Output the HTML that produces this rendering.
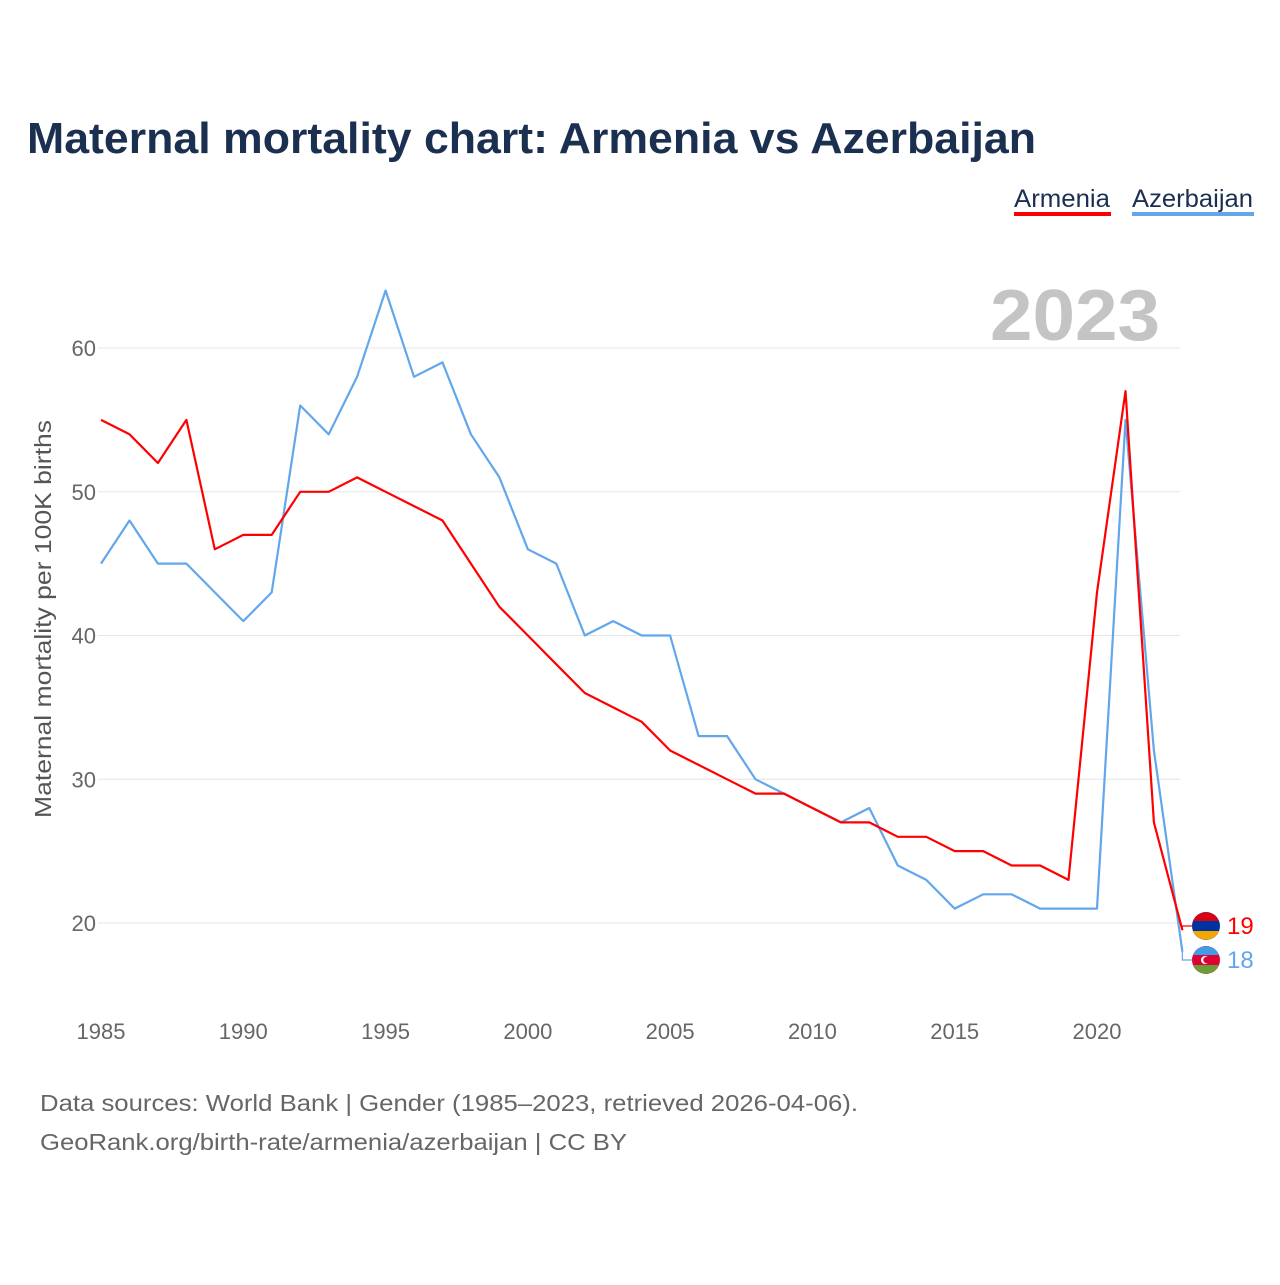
<!DOCTYPE html>
<html><head><meta charset="utf-8"><style>
body{margin:0;background:#fff;font-family:"Liberation Sans",sans-serif}
svg text{font-family:"Liberation Sans",sans-serif}
</style></head><body>
<svg id="chart" width="1280" height="1280" xmlns="http://www.w3.org/2000/svg">
<text x="27" y="153" font-size="44" font-weight="bold" fill="#1b3050" textLength="1009" lengthAdjust="spacingAndGlyphs">Maternal mortality chart: Armenia vs Azerbaijan</text>
<g>
<text x="1014" y="207" font-size="25" fill="#1b3050" textLength="96" lengthAdjust="spacingAndGlyphs">Armenia</text>
<rect x="1014" y="212" width="97" height="4" fill="#ff0000"/>
<text x="1132" y="207" font-size="25" fill="#1b3050" textLength="121" lengthAdjust="spacingAndGlyphs">Azerbaijan</text>
<rect x="1132" y="212" width="122" height="4" fill="#62a6eb"/>
</g>
<text x="1160" y="340" font-size="72" font-weight="bold" fill="#c4c4c4" text-anchor="end" textLength="170" lengthAdjust="spacingAndGlyphs">2023</text>
<g id="grid"></g>
<g id="xticks"></g>
<text transform="translate(51,619) rotate(-90)" font-size="23" fill="#555" text-anchor="middle" textLength="398" lengthAdjust="spacingAndGlyphs">Maternal mortality per 100K births</text>
<g id="series"></g>
<g id="endlabels">
<circle cx="1206" cy="926" r="14" fill="#0033a0"/>
<path d="M1193,921 A14,14 0 0 1 1219,921 Z" fill="#d90012"/>
<path d="M1193,931 A14,14 0 0 0 1219,931 Z" fill="#f2a800"/>
<text x="1227" y="934" font-size="24" fill="#ff0000">19</text>
<circle cx="1206" cy="960" r="14" fill="#e00034"/>
<path d="M1193,955 A14,14 0 0 1 1219,955 Z" fill="#3f9ce8"/>
<path d="M1193,965 A14,14 0 0 0 1219,965 Z" fill="#6a9c3a"/>
<circle cx="1205" cy="960" r="4" fill="#fff"/><circle cx="1206.5" cy="960" r="3.2" fill="#e00034"/>
<text x="1227" y="968" font-size="24" fill="#62a6eb">18</text>
</g>
<text x="40" y="1111" font-size="23" fill="#666" textLength="818" lengthAdjust="spacingAndGlyphs">Data sources: World Bank | Gender (1985–2023, retrieved 2026-04-06).</text>
<text x="40" y="1150" font-size="23" fill="#666" textLength="587" lengthAdjust="spacingAndGlyphs">GeoRank.org/birth-rate/armenia/azerbaijan | CC BY</text>
</svg>
<script>
const years=[1985,1986,1987,1988,1989,1990,1991,1992,1993,1994,1995,1996,1997,1998,1999,2000,2001,2002,2003,2004,2005,2006,2007,2008,2009,2010,2011,2012,2013,2014,2015,2016,2017,2018,2019,2020,2021,2022,2023];
const armenia=[55,54,52,55,46,47,47,50,50,51,50,49,48,45,42,40,38,36,35,34,32,31,30,29,29,28,27,27,26,26,25,25,24,24,23,43,57,27,19.5];
const azerbaijan=[45,48,45,45,43,41,43,56,54,58,64,58,59,54,51,46,45,40,41,40,40,33,33,30,29,28,27,28,24,23,21,22,22,21,21,21,55,32,18];
const yTicks=[20,30,40,50,60];
const xTicks=[1985,1990,1995,2000,2005,2010,2015,2020];
const NS="http://www.w3.org/2000/svg";
const xs=y=>101+(y-1985)*28.457;
const ys=v=>923-(v-20)*14.375;
function mk(t,a,p){const e=document.createElementNS(NS,t);for(const k in a)e.setAttribute(k,a[k]);p.appendChild(e);return e;}
const grid=document.getElementById('grid');
yTicks.forEach(v=>{
 const l=mk('line',{x1:98,x2:1180,y1:ys(v),y2:ys(v),stroke:'#e6e6e6','stroke-width':1},grid);
 
 
 const t=mk('text',{x:96,y:ys(v)+8,'font-size':22,fill:'#666','text-anchor':'end'},grid);
 t.textContent=v;
 
 
});
const xt=document.getElementById('xticks');
xTicks.forEach(y=>{
 const t=mk('text',{x:xs(y),y:1039,'font-size':22,fill:'#666','text-anchor':'middle'},xt);
 t.textContent=y;
 
 
});
const s=document.getElementById('series');
function line(vals,color,name){
 const d=vals.map((v,i)=>(i?'L':'M')+xs(years[i]).toFixed(1)+','+ys(v).toFixed(1)).join('');
 const p=mk('path',{d:d,fill:'none',stroke:color,'stroke-width':2.2,'stroke-linejoin':'round'},s);
 
 
}
line(azerbaijan,'#62a6eb','azerbaijan-line');
line(armenia,'#ff0000','armenia-line');
const ex=xs(years[years.length-1]);
const c1=mk('path',{d:`M${ex},${ys(armenia[armenia.length-1])} V926 H1192`,fill:'none',stroke:'#ff0000','stroke-width':1.2},s);


const c2=mk('path',{d:`M${ex},${ys(azerbaijan[azerbaijan.length-1])} V960 H1192`,fill:'none',stroke:'#62a6eb','stroke-width':1.2},s);


</script>
</body></html>
